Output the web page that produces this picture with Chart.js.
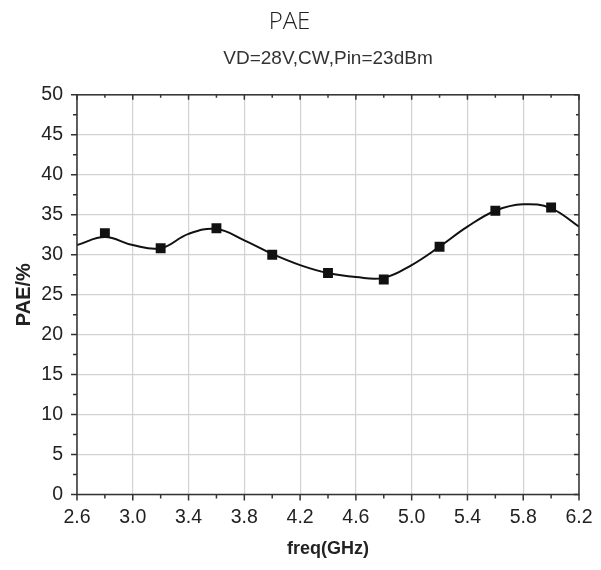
<!DOCTYPE html>
<html lang="en">
<head>
    <meta charset="UTF-8">
    <title>PAE</title>
    <script src="https://cdn.jsdelivr.net/npm/chart.js"></script>
    <style>
        html, body {
            margin: 0;
            padding: 0;
            background: #fff;
        }
        .chart-container {
            width: 601px;
            height: 570px;
        }
    </style>
</head>
<body>
    <div class="chart-container">
        <canvas id="paeChart"></canvas>
    </div>

    <script>
        // measured points, PAE in %
        const freqPoints = [2.8, 3.2, 3.6, 4.0, 4.4, 4.8, 5.2, 5.6, 6.0];
        const paePoints = [32.7, 30.8, 33.3, 30.0, 27.7, 26.9, 31.0, 35.5, 35.9];

        // fitted curve
        const freqCurve = [2.6, 2.8, 3.0, 3.2, 3.4, 3.6, 3.8, 4.0, 4.2, 4.4, 4.6, 4.8, 5.0, 5.2, 5.4, 5.6, 5.8, 6.0, 6.2];
        const paeCurve = [31.2, 32.2, 31.2, 30.8, 32.6, 33.2, 31.8, 30.1, 28.7, 27.7, 27.2, 27.1, 28.7, 31.0, 33.5, 35.5, 36.3, 35.8, 33.5];

        const xTickLabels = ['2.6', '3.0', '3.4', '3.8', '4.2', '4.6', '5.0', '5.4', '5.8', '6.2'];
        const yTickLabels = ['0', '5', '10', '15', '20', '25', '30', '35', '40', '45', '50'];

        const chartTitle = 'PAE';
        const chartSubtitle = 'VD=28V,CW,Pin=23dBm';

        const textFont = "'Liberation Sans', Arial, sans-serif";
        const gridGray = '#d2d2d2';

        const isMajorX = v => xTickLabels.includes(v.toFixed(1));
        const isMajorY = v => yTickLabels.includes(String(Math.round(v * 10) / 10));

        // box frame, ticks on all four sides, subtitle over the plot area
        const frameTicks = {
            id: 'frameTicks',
            afterDraw(chart) {
                const { ctx, chartArea: a, scales: { x, y } } = chart;
                ctx.save();
                ctx.strokeStyle = '#333';
                ctx.lineWidth = 1.5;
                ctx.beginPath();
                x.ticks.forEach(t => {
                    const px = x.getPixelForValue(t.value);
                    const len = isMajorX(t.value) ? 6 : 4;
                    ctx.moveTo(px, a.bottom);
                    ctx.lineTo(px, a.bottom + len);
                    ctx.moveTo(px, a.top);
                    ctx.lineTo(px, a.top + len - 1);
                });
                y.ticks.forEach(t => {
                    const py = y.getPixelForValue(t.value);
                    const len = isMajorY(t.value) ? 6 : 4;
                    ctx.moveTo(a.left, py);
                    ctx.lineTo(a.left - len, py);
                    ctx.moveTo(a.right, py);
                    ctx.lineTo(a.right - len + 1, py);
                });
                ctx.stroke();
                ctx.strokeRect(a.left, a.top, a.right - a.left, a.bottom - a.top);

                ctx.fillStyle = '#333';
                ctx.font = '19px ' + textFont;
                ctx.textAlign = 'center';
                ctx.textBaseline = 'alphabetic';
                ctx.fillText(chartSubtitle, (a.left + a.right) / 2, 63.5);
                ctx.restore();
            }
        };

        const ctx = document.getElementById('paeChart').getContext('2d');
        new Chart(ctx, {
            type: 'line',
            data: {
                datasets: [{
                    label: 'PAE points',
                    data: freqPoints.map((f, i) => ({ x: f, y: paePoints[i] })),
                    showLine: false,
                    pointStyle: 'rect',
                    pointRadius: 7,
                    pointBackgroundColor: '#111',
                    pointBorderWidth: 0
                }, {
                    label: 'PAE fit',
                    data: freqCurve.map((f, i) => ({ x: f, y: paeCurve[i] })),
                    borderColor: '#111',
                    borderWidth: 2,
                    pointRadius: 0,
                    tension: 0.4
                }]
            },
            options: {
                responsive: true,
                maintainAspectRatio: false,
                animation: false,
                events: [],
                layout: {
                    padding: { left: 0, right: 22, top: 0, bottom: 0 }
                },
                scales: {
                    x: {
                        type: 'linear',
                        min: 2.6,
                        max: 6.2,
                        afterFit: s => {
                            s.height = 75.5;
                            s.paddingLeft = 0;
                            s.paddingRight = 0;
                        },
                        ticks: {
                            stepSize: 0.2,
                            autoSkip: false,
                            maxRotation: 0,
                            padding: 11,
                            color: '#222',
                            font: { family: textFont, size: 19.5 },
                            callback: v => isMajorX(v) ? v.toFixed(1) : ''
                        },
                        grid: {
                            drawTicks: false,
                            lineWidth: 1.2,
                            color: c => c.tick && isMajorX(c.tick.value) ? gridGray : 'rgba(0,0,0,0)'
                        },
                        border: { display: false },
                        title: {
                            display: true,
                            text: 'freq(GHz)',
                            color: '#222',
                            font: { family: textFont, size: 18, weight: 'bold' },
                            padding: { top: 0, bottom: 10 }
                        }
                    },
                    y: {
                        min: 0,
                        max: 50,
                        afterFit: s => { s.width = 77; },
                        ticks: {
                            stepSize: 2.5,
                            autoSkip: false,
                            padding: 14,
                            color: '#222',
                            font: { family: textFont, size: 19.5 },
                            callback: v => isMajorY(v) ? String(v) : ''
                        },
                        grid: {
                            drawTicks: false,
                            lineWidth: 1.2,
                            color: c => c.tick && isMajorY(c.tick.value) ? gridGray : 'rgba(0,0,0,0)'
                        },
                        border: { display: false },
                        title: {
                            display: true,
                            text: 'PAE/%',
                            color: '#222',
                            font: { family: textFont, size: 20, weight: 'bold' },
                            padding: { top: 12, bottom: 0 }
                        }
                    }
                },
                plugins: {
                    legend: { display: false },
                    tooltip: { enabled: false },
                    title: {
                        display: true,
                        text: chartTitle,
                        color: '#222',
                        font: { family: "'Open Sans', 'Noto Sans', sans-serif", size: 24, weight: 300 },
                        padding: { top: 8, bottom: 58 }
                    }
                }
            },
            plugins: [frameTicks]
        });
    </script>
</body>
</html>
